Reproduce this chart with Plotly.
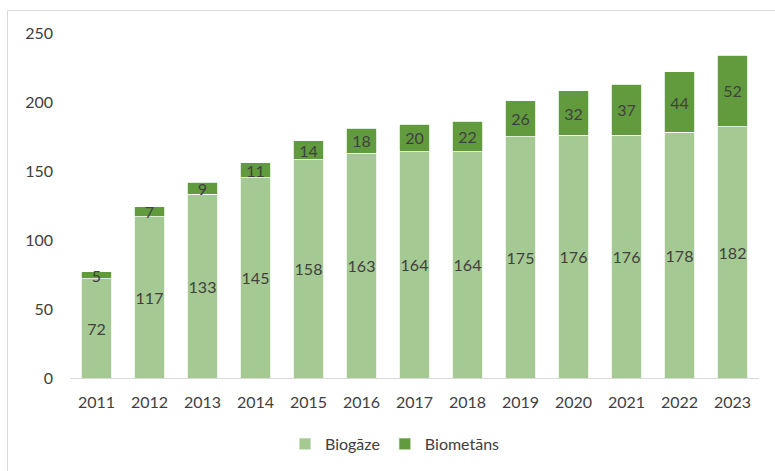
import plotly.graph_objects as go

years = ["2011", "2012", "2013", "2014", "2015", "2016", "2017", "2018", "2019", "2020", "2021", "2022", "2023"]
biogaze = [72, 117, 133, 145, 158, 163, 164, 164, 175, 176, 176, 178, 182]
biometans = [5, 7, 9, 11, 14, 18, 20, 22, 26, 32, 37, 44, 52]
y_ticks = [0, 50, 100, 150, 200, 250]

light = "#A5C993"
dark = "#629B3E"
txt = "#404040"
font = "Lato"

fig = go.Figure()
fig.add_trace(go.Bar(
    x=years, y=biogaze, name="Biogāze",
    marker=dict(color=light, line=dict(color="white", width=0.8)),
    text=biogaze, textposition="inside", insidetextanchor="middle",
    constraintext="none", textangle=0,
    textfont=dict(family=font, size=16, color=txt),
))
fig.add_trace(go.Bar(
    x=years, y=biometans, name="Biometāns",
    marker=dict(color=dark, line=dict(color="white", width=0.8)),
    text=biometans, textposition="inside", insidetextanchor="middle",
    constraintext="none", textangle=0,
    textfont=dict(family=font, size=16, color=txt),
))

L, R, T, B = 70, 16, 33, 93
W, H = 775, 471
pw, ph = W - L - R, H - T - B

fig.update_layout(
    width=W, height=H,
    barmode="stack", bargap=0.43,
    margin=dict(l=L, r=R, t=T, b=B, pad=0, autoexpand=False),
    plot_bgcolor="white", paper_bgcolor="white",
    font=dict(family=font, size=16, color=txt),
    showlegend=True,
    legend=dict(orientation="h", x=(395 - L) / pw, xanchor="center",
                y=(H - B - 444) / ph, yanchor="middle",
                traceorder="normal",
                font=dict(family=font, size=16, color=txt),
                itemwidth=30, tracegroupgap=0),
    xaxis=dict(showline=True, linecolor="#D9D9D9", linewidth=1, ticks="",
               showgrid=False, tickfont=dict(family=font, size=16, color=txt),
               ticklabelstandoff=10, automargin=False),
    yaxis=dict(range=[0, 250], tickvals=y_ticks, showgrid=False, zeroline=False,
               showline=False, ticks="", tickfont=dict(family=font, size=16, color=txt),
               ticklabelstandoff=16, automargin=False),
    shapes=[dict(type="rect", xref="paper", yref="paper",
                 x0=(7.5 - L) / pw, x1=(790 - L) / pw,
                 y0=(H - B - 490) / ph, y1=(H - B - 10.5) / ph,
                 line=dict(color="#D9D9D9", width=1), fillcolor="rgba(0,0,0,0)",
                 layer="below")],
)

fig.write_html("out.html", config={"displayModeBar": False},
               post_script="document.body.style.margin='0';document.body.style.overflow='hidden';")
